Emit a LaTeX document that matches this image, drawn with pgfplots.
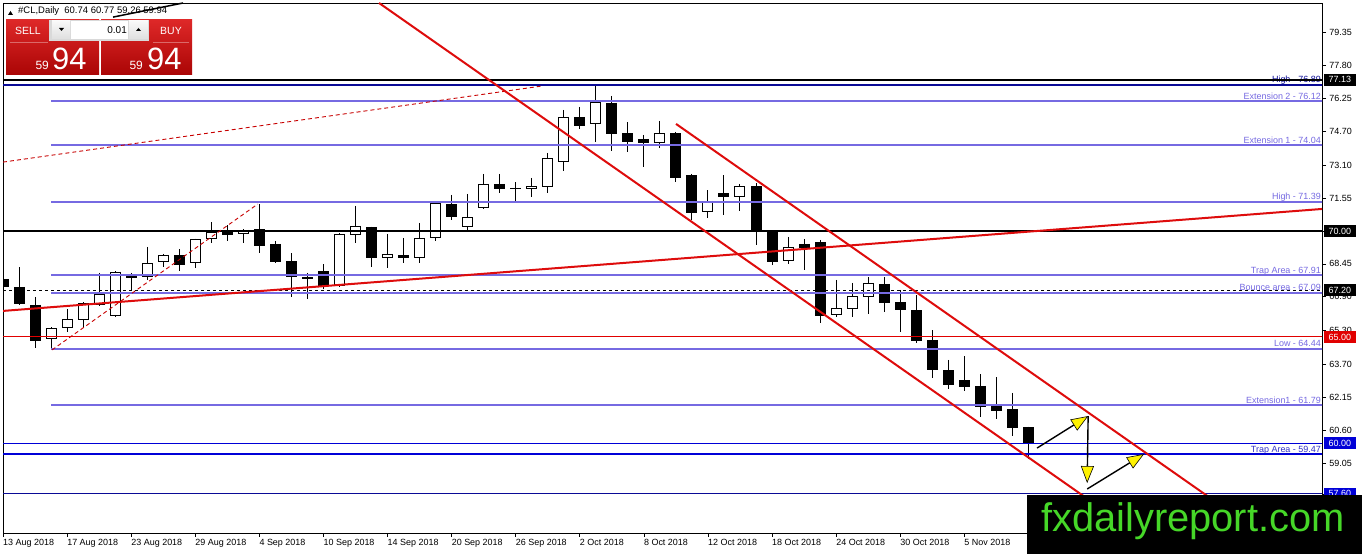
\documentclass[border=0pt]{standalone}
\usepackage{fontspec}
\setmainfont{Liberation Sans}
\usepackage{pgfplots}
\pgfplotsset{compat=1.18}
\usepackage{pgfplotstable}
\usetikzlibrary{arrows.meta}

\definecolor{slate}{RGB}{118,106,226}
\definecolor{navyl}{RGB}{10,10,150}
\definecolor{bluel}{RGB}{0,0,215}
\definecolor{traplbl}{RGB}{50,50,200}
\definecolor{redl}{RGB}{225,0,0}
\definecolor{chan}{RGB}{222,12,12}
\definecolor{dred}{RGB}{200,0,0}
\definecolor{brand}{RGB}{70,215,40}
\definecolor{btntop}{RGB}{222,40,40}
\definecolor{btnbot}{RGB}{170,5,5}

\newcommand\lbl{\fontsize{9}{10}\selectfont}

% daily bars: index, open, high, low, close
\pgfplotstableread{
i o h l c
3 64.91 65.47 64.39 65.42
4 65.42 66.32 65.24 65.85
5 65.80 66.65 65.47 66.60
6 66.51 68.02 66.46 67.03
7 65.99 68.09 65.94 68.07
9 67.83 69.25 67.69 68.49
10 68.54 68.92 68.30 68.87
12 68.49 69.64 68.25 69.62
13 69.62 70.42 69.43 69.95
15 69.86 70.09 69.43 70.05
21 67.41 69.91 67.36 69.86
22 69.81 71.18 69.43 70.24
24 68.73 69.86 68.25 68.92
26 68.73 70.38 68.49 69.67
27 69.67 71.37 69.53 71.32
29 70.19 71.75 69.95 70.66
30 71.08 72.69 71.04 72.22
33 71.98 72.50 71.60 72.12
34 72.08 73.68 71.79 73.44
35 73.25 75.71 72.83 75.38
37 75.05 76.89 74.20 76.08
41 74.15 75.19 73.92 74.62
44 70.90 71.93 70.61 71.42
46 71.60 72.22 70.94 72.12
49 68.58 69.72 68.44 69.25
52 66.04 67.69 65.94 66.37
53 66.32 67.55 65.94 66.93
54 66.89 67.83 66.08 67.55
}\bull

\pgfplotstableread{
i o h l c
0 67.74 67.83 65.66 67.36
1 67.36 68.30 66.51 66.56
2 66.51 66.89 64.48 64.81
8 67.97 68.02 67.22 67.78
11 68.87 69.15 68.11 68.40
14 70.00 70.28 69.53 69.81
16 70.09 71.27 68.96 69.29
17 69.39 69.53 68.49 68.54
18 68.58 68.96 66.89 67.83
19 67.83 68.02 66.79 67.74
20 68.11 68.44 67.26 67.41
23 70.19 70.21 68.30 68.73
25 68.87 69.67 68.49 68.73
28 71.27 71.70 70.52 70.66
31 72.22 72.69 71.79 71.98
32 72.03 72.31 71.37 71.98
36 75.38 75.85 74.81 74.95
38 76.04 76.37 73.77 74.58
39 74.62 75.14 73.73 74.20
40 74.34 74.53 73.02 74.15
42 74.62 74.67 72.31 72.50
43 72.64 72.69 70.52 70.85
45 71.79 72.64 70.75 71.60
47 72.12 72.26 69.34 69.95
48 69.95 70.00 68.40 68.54
50 69.39 69.62 68.16 69.20
51 69.48 69.58 65.66 65.99
55 67.50 67.83 66.18 66.60
56 66.65 67.22 65.24 66.27
57 66.27 66.98 64.72 64.81
58 64.86 65.33 63.07 63.44
59 63.44 63.92 62.55 62.74
60 62.97 64.10 62.45 62.64
61 62.69 63.25 61.23 61.70
62 61.75 63.11 61.13 61.51
63 61.60 62.36 60.33 60.71
64 60.74 60.77 59.26 59.94
}\bear

\begin{document}
\begin{tikzpicture}[x=1bp,y=1bp]
\fill[white] (-3,-21) rectangle (1359,533);
\path[use as bounding box] (-3,-21) rectangle (1359,533);

\begin{axis}[
  at={(0,0)}, anchor=south west,
  scale only axis, width=1319bp, height=530bp,
  xmin=0, xmax=82.335, ymin=55.755, ymax=80.755,
  axis line style={black, line width=0.8bp},
  tick align=outside, major tick length=4bp,
  tick style={black, line width=0.6bp},
  xtick pos=left, ytick pos=right, yticklabel pos=right,
  xtick={0,4,...,60},
  xticklabels={13 Aug 2018,17 Aug 2018,23 Aug 2018,29 Aug 2018,4 Sep 2018,10 Sep 2018,14 Sep 2018,20 Sep 2018,26 Sep 2018,2 Oct 2018,8 Oct 2018,12 Oct 2018,18 Oct 2018,24 Oct 2018,30 Oct 2018,5 Nov 2018},
  ytick={57.60,59.05,60.60,62.15,63.70,65.30,66.90,68.45,70.00,71.55,73.10,74.70,76.25,77.80,79.35},
  tick label style={font=\lbl},
  y tick label style={/pgf/number format/fixed, /pgf/number format/fixed zerofill,
    /pgf/number format/precision=2, /pgf/number format/assume math mode=true,
    anchor=west, inner sep=0pt, xshift=3bp},
  xticklabel style={anchor=north west, inner sep=0pt, yshift=-2bp},
  candle/.style={draw=none, mark=none, error bars/.cd, y dir=minus, y explicit, error mark=none},
]

% wicks
\addplot[candle, error bar style={draw=black, line width=1bp}]
  table[x=i, y=h, y error minus expr=\thisrow{h}-\thisrow{l}] {\bull};
\addplot[candle, error bar style={draw=black, line width=1bp}]
  table[x=i, y=h, y error minus expr=\thisrow{h}-\thisrow{l}] {\bear};

% bodies
\addplot[candle, error bar style={draw=black, line width=11bp}]
  table[x=i, y=o, y error minus expr=\thisrow{o}-\thisrow{c}] {\bear};
\addplot[candle, error bar style={draw=black, line width=11bp}]
  table[x=i, y=c, y error minus expr=\thisrow{c}-\thisrow{o}] {\bull};
\addplot[candle, error bar style={draw=white, line width=9bp, shorten <=1bp, shorten >=1bp}]
  table[x=i, y=c, y error minus expr=\thisrow{c}-\thisrow{o}] {\bull};

% level labels
\node[navyl, anchor=base east, inner sep=0, font=\lbl, yshift=2bp] at (axis cs:82.27,76.89) {High - 76.89};
\node[slate, anchor=base east, inner sep=0, font=\lbl, yshift=2bp] at (axis cs:82.27,76.12) {Extension 2 - 76.12};
\node[slate, anchor=base east, inner sep=0, font=\lbl, yshift=2bp] at (axis cs:82.27,74.04) {Extension 1 - 74.04};
\node[slate, anchor=base east, inner sep=0, font=\lbl, yshift=2bp] at (axis cs:82.27,71.39) {High - 71.39};
\node[slate, anchor=base east, inner sep=0, font=\lbl, yshift=2bp] at (axis cs:82.27,67.91) {Trap Area - 67.91};
\node[slate, anchor=base east, inner sep=0, font=\lbl, yshift=2bp] at (axis cs:82.27,67.09) {Bounce area - 67.09};
\node[slate, anchor=base east, inner sep=0, font=\lbl, yshift=2bp] at (axis cs:82.27,64.44) {Low - 64.44};
\node[slate, anchor=base east, inner sep=0, font=\lbl, yshift=2bp] at (axis cs:82.27,61.79) {Extension1 - 61.79};
\node[traplbl, anchor=base east, inner sep=0, font=\lbl, yshift=2bp] at (axis cs:82.27,59.47) {Trap Area - 59.47};

% horizontal levels
\addplot[navyl, line width=2bp] coordinates {(0,76.89) (83,76.89)};
\addplot[black, line width=2bp] coordinates {(0,77.13) (83,77.13)};
\addplot[slate, line width=2bp] coordinates {(3,76.12) (83,76.12)};
\addplot[slate, line width=2bp] coordinates {(3,74.04) (83,74.04)};
\addplot[slate, line width=2bp] coordinates {(3,71.39) (83,71.39)};
\addplot[black, line width=2bp] coordinates {(0,70.00) (83,70.00)};
\addplot[slate, line width=2bp] coordinates {(3,67.91) (83,67.91)};
\addplot[black, line width=1bp, dash pattern=on 3bp off 3bp] coordinates {(0,67.20) (83,67.20)};
\addplot[slate, line width=2bp] coordinates {(3,67.09) (83,67.09)};
\addplot[redl, line width=1bp] coordinates {(0,65.00) (83,65.00)};
\addplot[slate, line width=2bp] coordinates {(3,64.44) (83,64.44)};
\addplot[slate, line width=2bp] coordinates {(3,61.79) (83,61.79)};
\addplot[bluel, line width=1bp] coordinates {(0,60.00) (83,60.00)};
\addplot[bluel, line width=2bp] coordinates {(0,59.47) (83,59.47)};
\addplot[navyl, line width=1bp] coordinates {(0,57.60) (83,57.60)};

% trend lines and channel
\addplot[chan, line width=2bp] coordinates {(0,66.23) (82.335,71.04)};
\addplot[dred, line width=0.9bp, dash pattern=on 4bp off 3bp] coordinates {(3.06,64.39) (15.9,71.27)};
\addplot[dred, line width=0.9bp, dash pattern=on 4bp off 3bp] coordinates {(0,73.25) (33.65,76.84)};
\addplot[chan, line width=2bp] coordinates {(23.47,80.755) (68.48,56.95)};
\addplot[chan, line width=2bp] coordinates {(42.01,75.05) (77.84,56.09)};
\addplot[black, line width=1.5bp] coordinates {(6.87,80.09) (11.24,80.755)};

% projection arrows
\addplot[black, line width=1.4bp, -{Triangle[length=17bp,width=13bp,fill=yellow,line width=0.6bp]}]
  coordinates {(64.54,59.76) (67.73,61.27)};
\addplot[black, line width=1.4bp, -{Triangle[length=17bp,width=13bp,fill=yellow,line width=0.6bp]}]
  coordinates {(67.73,61.27) (67.67,58.11)};
\addplot[black, line width=1.4bp, -{Triangle[length=17bp,width=13bp,fill=yellow,line width=0.6bp]}]
  coordinates {(67.67,57.83) (71.22,59.48)};

\coordinate (b7713) at (axis cs:82.335,77.13);
\coordinate (b7000) at (axis cs:82.335,70.00);
\coordinate (b6720) at (axis cs:82.335,67.20);
\coordinate (b6500) at (axis cs:82.335,65.00);
\coordinate (b6000) at (axis cs:82.335,60.00);
\coordinate (b5760) at (axis cs:82.335,57.60);
\end{axis}

% price boxes on the scale
\tikzset{pbox/.style={text=white, anchor=west, inner sep=0pt, minimum width=32bp, minimum height=12bp, font=\lbl, xshift=1.5bp}}
\node[pbox, fill=black] at (b7713) {77.13};
\node[pbox, fill=black] at (b7000) {70.00};
\node[pbox, fill=black] at (b6720) {67.20};
\node[pbox, fill=redl] at (b6500) {65.00};
\node[pbox, fill=bluel] at (b6000) {60.00};
\node[pbox, fill=bluel] at (b5760) {57.60};

% brand banner
\fill[black] (1024,-21) rectangle (1359,38);
\node[brand, anchor=base, inner sep=0, font=\fontsize{40}{40}\selectfont] at (1190,1) {fxdailyreport.com};

% title
\fill[black] (5,518) -- (10,518) -- (7.5,522) -- cycle;
\node[anchor=base west, inner sep=0, font=\fontsize{9.5}{10}\selectfont] at (15,519) {\#CL,Daily\ \ 60.74 60.77 59.26 59.94};

% trade panel
\shade[top color=btntop, bottom color=btnbot] (3,458) rectangle (96,513);
\shade[top color=btntop, bottom color=btnbot] (98,458) rectangle (189,513);
\fill[gray!30] (46,492) rectangle (146,513);
\shade[top color=gray!5, bottom color=gray!25] (49,494) rectangle (67,512);
\fill[white] (68,494) rectangle (125,512);
\shade[top color=gray!5, bottom color=gray!25] (126,494) rectangle (145,512);
\fill[black] (56,505) -- (61,505) -- (58.5,502) -- cycle;
\fill[black] (133,502) -- (138,502) -- (135.5,505) -- cycle;
\node[anchor=east, inner sep=0, font=\fontsize{10}{11}\selectfont] at (124,503) {0.01};
\draw[white, opacity=0.35] (7,491) -- (45,491);
\draw[white, opacity=0.35] (150,491) -- (186,491);
\node[white, inner sep=0, font=\fontsize{10.5}{11}\selectfont] at (25,502.5) {SELL};
\node[white, inner sep=0, font=\fontsize{10.5}{11}\selectfont] at (168,502.5) {BUY};
\node[white, anchor=base east, inner sep=0, font=\fontsize{12}{12}\selectfont] at (46,463) {59};
\node[white, anchor=base west, inner sep=0, font=\fontsize{31}{31}\selectfont] at (49,463) {94};
\node[white, anchor=base east, inner sep=0, font=\fontsize{12}{12}\selectfont] at (140,463) {59};
\node[white, anchor=base west, inner sep=0, font=\fontsize{31}{31}\selectfont] at (144,463) {94};
\end{tikzpicture}
\end{document}
